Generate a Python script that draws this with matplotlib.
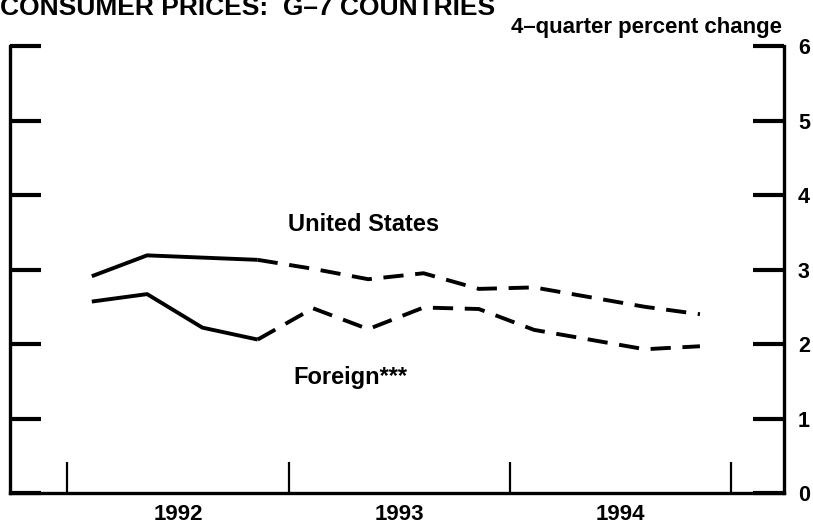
import matplotlib
matplotlib.use("Agg")
import matplotlib.pyplot as plt
import numpy as np

plt.rcParams['font.family'] = ['Liberation Sans', 'DejaVu Sans']

# Data (4-quarter percent change, quarterly 1992Q1 - 1994Q4)
years = [1992, 1993, 1994]
quarters = [(y, q) for y in years for q in range(1, 5)]
us_values = [2.91, 3.19, 3.16, 3.13, 3.01, 2.87, 2.95, 2.74, 2.76, 2.63, 2.50, 2.40]
foreign_values = [2.57, 2.67, 2.22, 2.06, 2.48, 2.20, 2.49, 2.47, 2.19, 2.06, 1.93, 1.97]
n_actual = 4  # first 4 quarters solid (actual), rest dashed (projection)
y_ticks = [0, 1, 2, 3, 4, 5, 6]
year_labels = ['1992', '1993', '1994']

x = np.array([y + (q - 1) / 4 + 0.11 for y, q in quarters])

fig = plt.figure(figsize=(8.13, 5.29), dpi=100)
ax = fig.add_axes([0.0123, 0.068, 0.952, 0.845])

lw = 2.8
for vals in (us_values, foreign_values):
    v = np.array(vals)
    ax.plot(x[:n_actual], v[:n_actual], color='black', lw=lw, solid_capstyle='butt')
    ax.plot(x[n_actual - 1:], v[n_actual - 1:], color='black', lw=lw, dashes=(5.2, 3.0))

ax.set_xlim(1991.74, 1995.24)
ax.set_ylim(0, 6)

ax.spines['top'].set_visible(False)
for s in ('left', 'right', 'bottom'):
    ax.spines[s].set_linewidth(2.4)

ax.set_yticks(y_ticks)
ax.tick_params(axis='y', which='major', direction='in', length=22, width=3,
               left=True, right=True, labelleft=False, labelright=True,
               labelsize=15.5, pad=10)
for lab in ax.get_yticklabels():
    lab.set_fontweight('bold')

ax.set_xticks([1992, 1993, 1994, 1995])
ax.set_xticklabels([])
ax.tick_params(axis='x', which='major', direction='in', length=22, width=1.6)
ax.set_xticks([y + 0.5 for y in years], minor=True)
ax.set_xticklabels(year_labels, minor=True, fontsize=16, fontweight='bold')
ax.tick_params(axis='x', which='minor', length=0, pad=8)

ax.text(1993.34, 3.6, 'United States', fontsize=17, fontweight='bold',
        ha='center', va='center')
ax.text(1993.28, 1.55, 'Foreign***', fontsize=17, fontweight='bold',
        ha='center', va='center')

fig.text(0.0, 1.0 - 15 / 529, 'CONSUMER PRICES:  G–7 COUNTRIES', fontsize=19,
         fontweight='bold', ha='left', va='baseline')
fig.text(0.962, 1.0 - 27 / 529, '4–quarter percent change', fontsize=16,
         fontweight='bold', ha='right', va='center')

fig.savefig('out.png', dpi=100)
